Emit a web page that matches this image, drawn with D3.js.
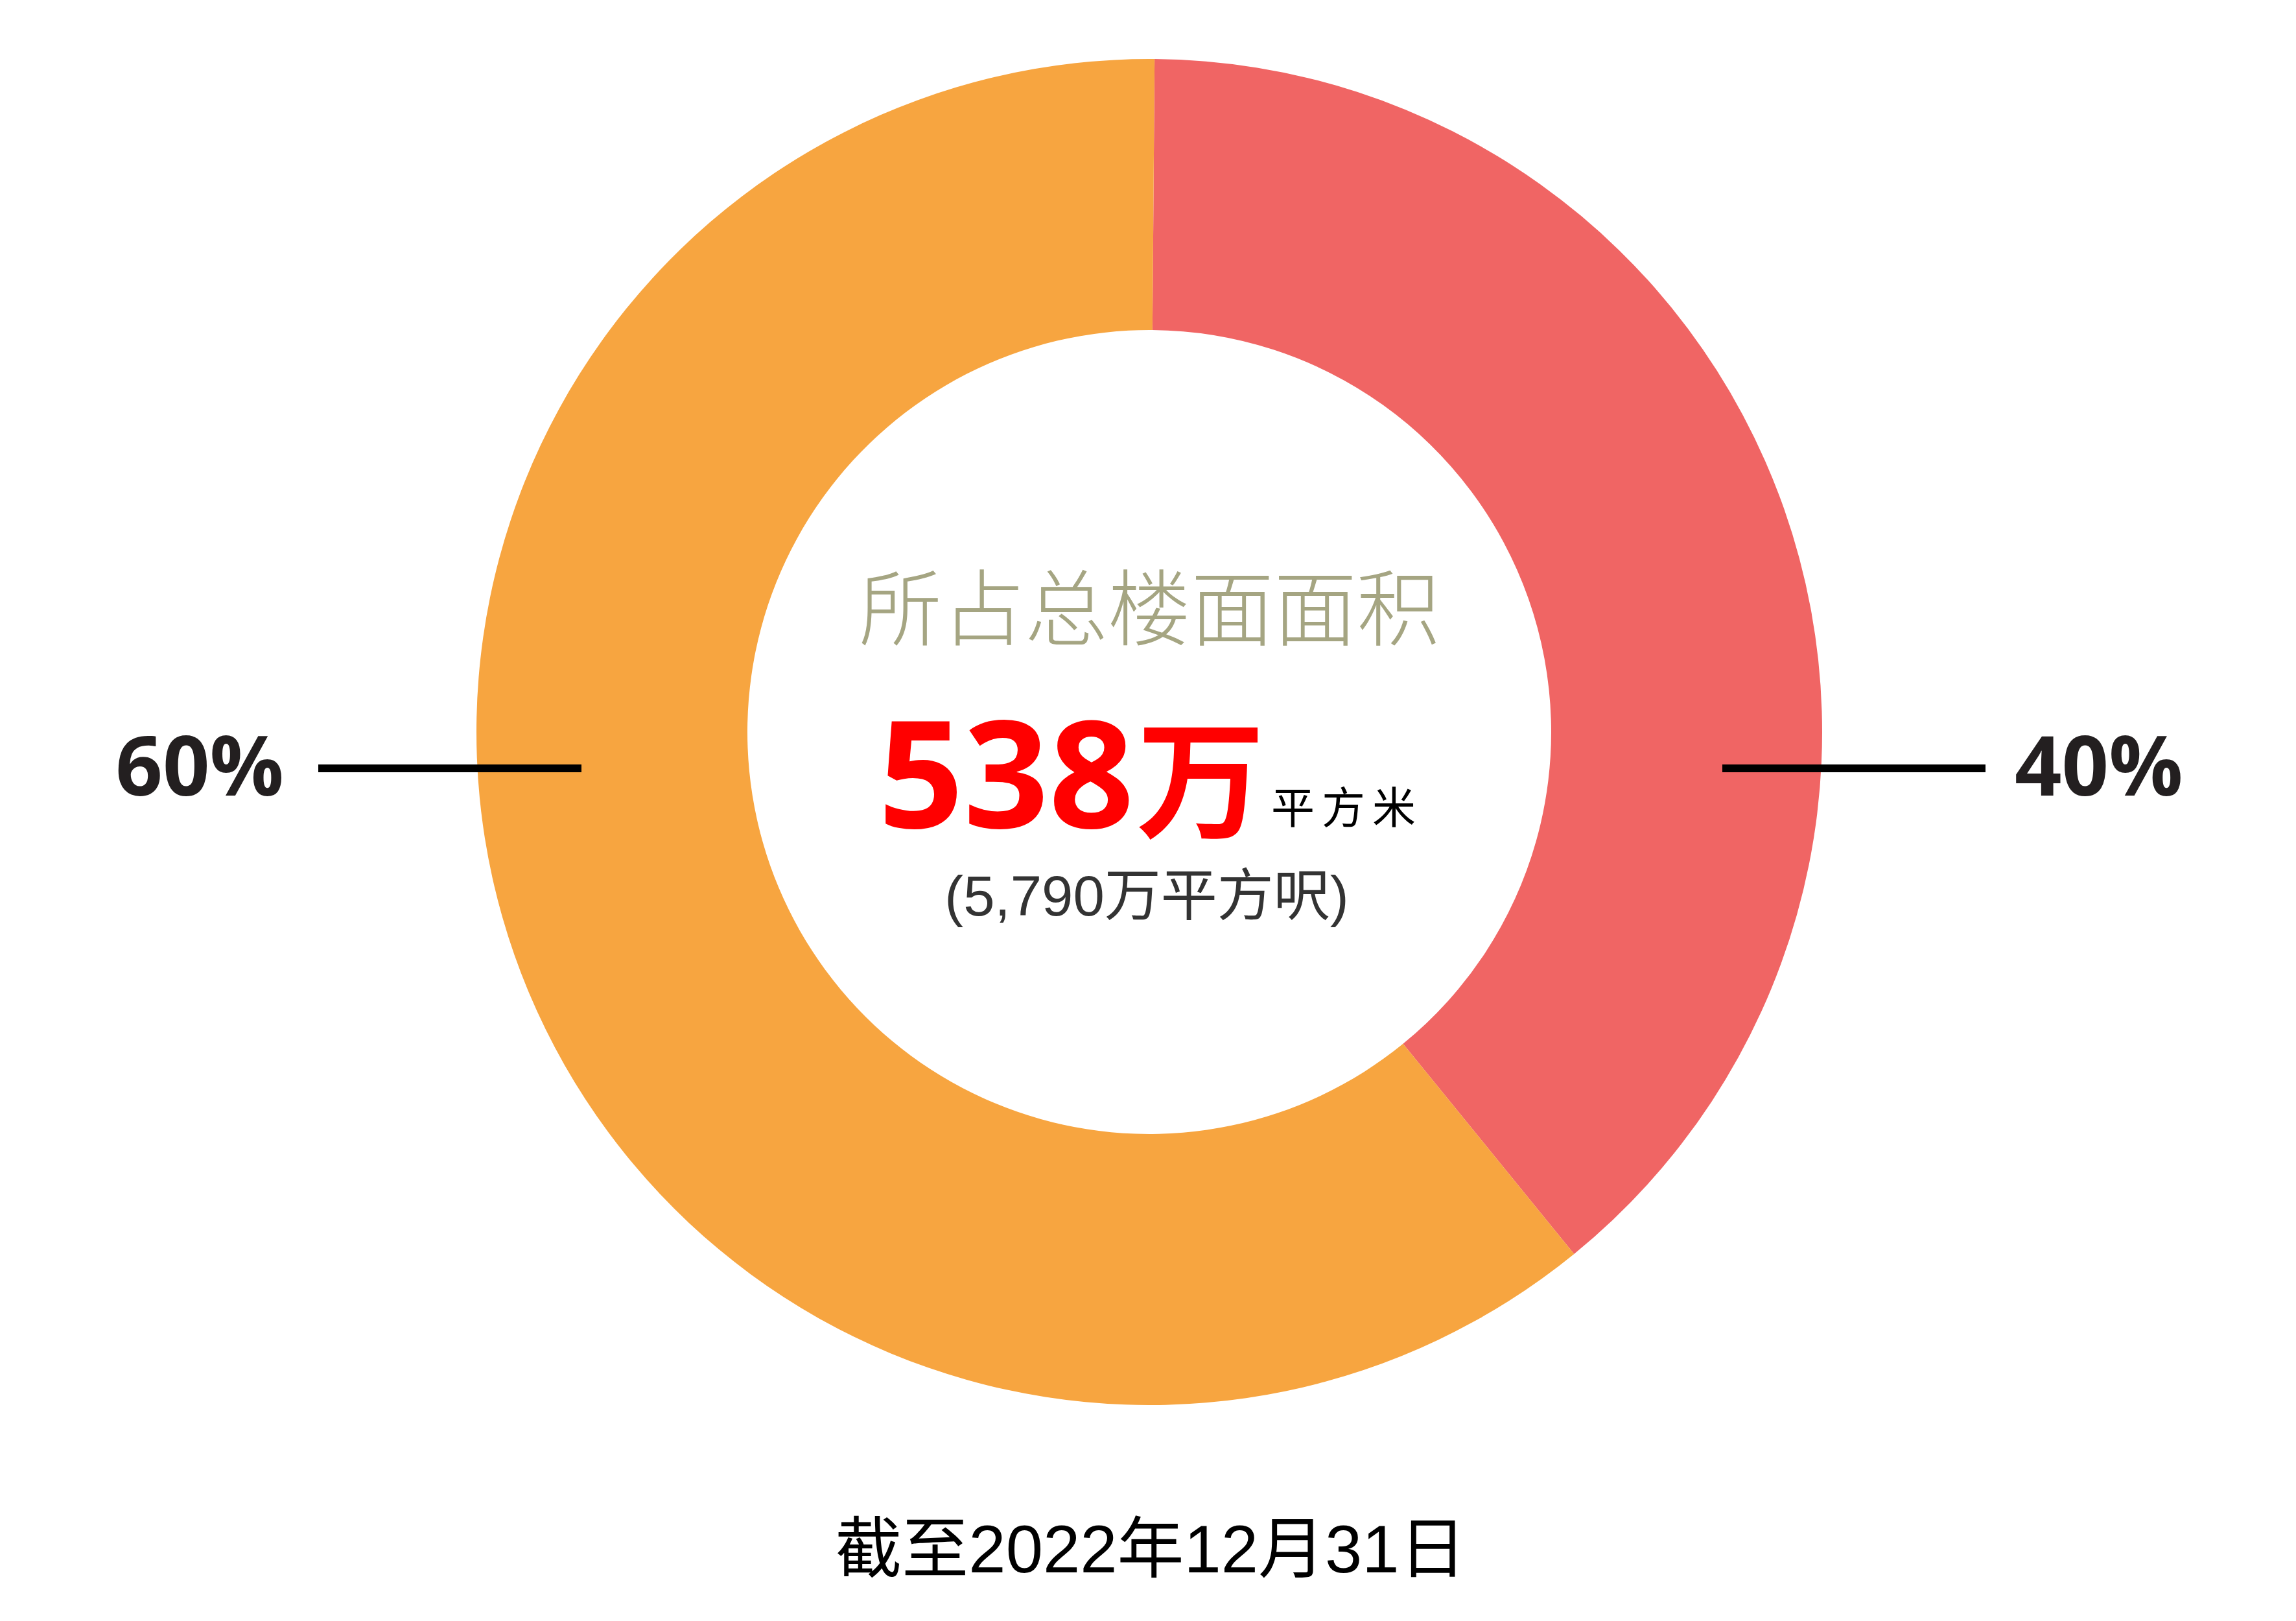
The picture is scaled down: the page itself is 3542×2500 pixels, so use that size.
<!DOCTYPE html>
<html>
<head>
<meta charset="utf-8">
<script src="https://cdn.jsdelivr.net/npm/d3@7"></script>
<style>
  html, body { margin: 0; padding: 0; background: #ffffff; }
  svg { display: block; }
</style>
</head>
<body>
<div id="chart"></div>
<script>
// share of total floor area (red slice ends near 140.5 deg)
const categories = ["red", "orange"];
const values = [39, 61];
const labels = ["40%", "60%"];
const colors = ["#f06564", "#f7a540"];

const titleText = "所占总楼面面积";
const bigNumber = "538";
const bigUnit = "万";
const unitText = "平方米";
const subText = "(5,790万平方呎)";
const footerText = "截至2022年12月31日";

const width = 3542;
const height = 2500;
const cx = 1773;
const cy = 1129;
const outerR = 1038;
const innerR = 620;
const startOffset = 0.45 * Math.PI / 180;

const cjk = "'Noto Sans CJK SC', 'Noto Sans', sans-serif";

const svg = d3.select("#chart").append("svg")
    .attr("width", width)
    .attr("height", height);

const g = svg.append("g")
    .attr("transform", "translate(" + cx + "," + cy + ")");

const pie = d3.pie()
    .sort(null)
    .value(d => d)
    .startAngle(startOffset)
    .endAngle(startOffset + 2 * Math.PI);

const arc = d3.arc()
    .innerRadius(innerR)
    .outerRadius(outerR);

const slices = pie(values);

g.selectAll("path.slice")
    .data(slices)
    .enter().append("path")
    .attr("class", "slice")
    .attr("d", arc)
    .attr("fill", (d, i) => colors[i]);

// leader lines: right for the first slice, left for the second
const lineY = 56;
const side = i => (i === 0 ? 1 : -1);

g.selectAll("line.leader")
    .data(slices)
    .enter().append("line")
    .attr("class", "leader")
    .attr("x1", (d, i) => side(i) * (outerR - 158) + 4)
    .attr("x2", (d, i) => side(i) * (outerR + 248) + 4)
    .attr("y1", lineY)
    .attr("y2", lineY)
    .attr("stroke", "#000")
    .attr("stroke-width", 12);

g.selectAll("text.pct")
    .data(slices)
    .enter().append("text")
    .attr("class", "pct")
    .attr("x", (d, i) => side(i) * (outerR + 297))
    .attr("y", 98)
    .attr("text-anchor", (d, i) => (i === 0 ? "start" : "end"))
    .attr("font-family", "'Open Sans', sans-serif")
    .attr("font-weight", 700)
    .attr("font-size", 127)
    .attr("fill", "#231f20")
    .text((d, i) => labels[i]);

// centre texts
g.append("text")
    .attr("x", 0)
    .attr("y", -143)
    .attr("text-anchor", "middle")
    .attr("font-family", cjk)
    .attr("font-weight", 300)
    .attr("font-size", 128)
    .attr("fill", "#a5a582")
    .text(titleText);

const big = g.append("text")
    .attr("x", -418)
    .attr("y", 148)
    .attr("fill", "#ff0000");
big.append("tspan")
    .attr("font-family", "'Open Sans', sans-serif")
    .attr("font-weight", 700)
    .attr("font-size", 230)
    .text(bigNumber);
big.append("tspan")
    .attr("dx", 4)
    .attr("font-family", cjk)
    .attr("font-weight", 700)
    .attr("font-size", 198)
    .text(bigUnit);

g.append("text")
    .attr("x", 188)
    .attr("y", 141)
    .attr("font-family", cjk)
    .attr("font-weight", 400)
    .attr("font-size", 67)
    .attr("letter-spacing", 11)
    .attr("fill", "#000")
    .text(unitText);

g.append("text")
    .attr("x", -4)
    .attr("y", 283)
    .attr("text-anchor", "middle")
    .attr("font-family", "'Liberation Sans', " + cjk)
    .attr("font-size", 87)
    .attr("fill", "#333333")
    .text(subText);

svg.append("text")
    .attr("x", cx + 2)
    .attr("y", 2425)
    .attr("text-anchor", "middle")
    .attr("font-family", "'Liberation Sans', " + cjk)
    .attr("font-size", 103)
    .attr("fill", "#000")
    .text(footerText);
</script>
</body>
</html>
